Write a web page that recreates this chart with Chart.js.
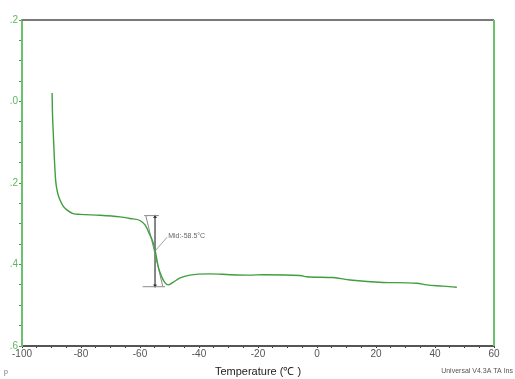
<!DOCTYPE html>
<html>
<head>
<meta charset="utf-8">
<script src="https://cdn.jsdelivr.net/npm/chart.js@4/dist/chart.umd.min.js"></script>
<style>
  html, body { margin: 0; padding: 0; background: #fff; }
  #wrap { width: 515px; height: 379px; position: relative; }
</style>
</head>
<body>
<div id="wrap"><canvas id="dscChart"></canvas></div>
<script>
// Данные кривой ДСК (температура, сигнал)
const temps = [-89.8, -89.7, -89.4, -89.0, -88.6, -88.0, -87.1, -86.1, -84.8, -82.7, -80.3, -73.6, -66.8, -63.4,
  -60.0, -58.3, -56.6, -55.5, -54.9, -53.8, -52.6, -51.5, -50.4, -48.7, -46.4, -43.1, -36.3, -29.5,
  -22.7, -18.3, -5.8, -3.5, 5.4, 11.2, 22.4, 33.8, 37.2, 42.7, 47.4];
const signal = [0.021, -0.021, -0.077, -0.144, -0.193, -0.222, -0.242, -0.256, -0.266, -0.275, -0.277, -0.279, -0.283, -0.287,
  -0.292, -0.303, -0.328, -0.347, -0.364, -0.406, -0.431, -0.445, -0.450, -0.443, -0.433, -0.426, -0.423, -0.425,
  -0.426, -0.425, -0.427, -0.430, -0.432, -0.438, -0.444, -0.446, -0.450, -0.453, -0.456];

// Разметка стеклования (касательные и середина)
const onsetLineX = [-58.6, -53.6];
const onsetLineY = [-0.280, -0.280];
const endLineX = [-59.1, -51.5];
const endLineY = [-0.4545, -0.4545];
const slopeLineX = [-58.0, -52.3];
const slopeLineY = [-0.281, -0.453];
const arrowX = [-54.9, -54.9];
const arrowY = [-0.283, -0.452];
const leaderX = [-54.9, -50.8];
const leaderY = [-0.367, -0.333];
const midLabel = 'Mid:-58.5°C';

const xTickLabels = { '-100': '-100', '-80': '-80', '-60': '-60', '-40': '-40', '-20': '-20', '0': '0', '20': '20', '40': '40', '60': '60' };
const yTickLabels = { '20': '.2', '0': '.0', '-20': '.2', '-40': '.4', '-60': '.6' };

const pts = (xs, ys) => xs.map((x, i) => ({ x: x, y: ys[i] }));
const grey = '#8a8a8a';

const frame = {
  id: 'frame',
  afterDraw(chart) {
    const { ctx, chartArea: a } = chart;
    ctx.save();
    ctx.lineWidth = 2;
    ctx.strokeStyle = '#7a7a7a';
    ctx.beginPath(); ctx.moveTo(a.left, a.top); ctx.lineTo(a.right, a.top); ctx.stroke();
    ctx.strokeStyle = '#6cc16c';
    ctx.beginPath(); ctx.moveTo(a.right, a.top); ctx.lineTo(a.right, a.bottom); ctx.stroke();
    // подпись середины перехода
    const xs = chart.scales.x, ys = chart.scales.y;
    ctx.font = '7px "Liberation Sans", Arial, sans-serif';
    ctx.fillStyle = '#666';
    ctx.textBaseline = 'middle';
    ctx.fillText(midLabel, xs.getPixelForValue(leaderX[1]) + 1, ys.getPixelForValue(leaderY[1]) - 1);
    // нижние надписи
    ctx.fillStyle = '#6b6b8a';
    ctx.fillText('p', 4, 372);
    ctx.fillStyle = '#555';
    ctx.textAlign = 'right';
    ctx.fillText('Universal V4.3A TA Ins', 513, 371);
    ctx.restore();
  }
};

new Chart(document.getElementById('dscChart'), {
  type: 'scatter',
  data: {
    datasets: [
      { data: pts(temps, signal), showLine: true, borderColor: '#3f9f3f', borderWidth: 1.4, pointRadius: 0, cubicInterpolationMode: 'monotone' },
      { data: pts(onsetLineX, onsetLineY), showLine: true, borderColor: grey, borderWidth: 1, pointRadius: 0 },
      { data: pts(endLineX, endLineY), showLine: true, borderColor: grey, borderWidth: 1, pointRadius: 0 },
      { data: pts(slopeLineX, slopeLineY), showLine: true, borderColor: grey, borderWidth: 1, pointRadius: 0 },
      { data: pts(leaderX, leaderY), showLine: true, borderColor: grey, borderWidth: 0.8, pointRadius: 0 },
      {
        data: pts(arrowX, arrowY), showLine: true, borderColor: '#777', borderWidth: 1,
        pointStyle: 'triangle', pointRadius: 2.2, pointRotation: [0, 180],
        pointBackgroundColor: '#333', pointBorderColor: '#333', pointBorderWidth: 0
      }
    ]
  },
  options: {
    responsive: true,
    maintainAspectRatio: false,
    animation: false,
    layout: { padding: { top: 20, right: 21, left: 0, bottom: 0 } },
    plugins: { legend: { display: false }, tooltip: { enabled: false } },
    scales: {
      x: {
        type: 'linear',
        min: -100, max: 60,
        afterFit: s => { s.height = 33; },
        border: { color: '#555', width: 2 },
        grid: { drawOnChartArea: false, drawTicks: true, tickLength: 2, color: '#333' },
        ticks: {
          stepSize: 5, autoSkip: false, maxRotation: 0, padding: 0,
          color: '#555', font: { family: '"Liberation Sans", Arial, sans-serif', size: 10 },
          callback: v => xTickLabels[String(Math.round(v))] || ''
        },
        title: {
          display: true, text: 'Temperature (℃ )', color: '#222', padding: { top: 8, bottom: 0 },
          font: { family: '"Liberation Sans", Arial, sans-serif', size: 11 }
        }
      },
      y: {
        min: -0.6, max: 0.2,
        afterFit: s => { s.width = 22; },
        border: { color: '#6cc16c', width: 2 },
        grid: { drawOnChartArea: false, drawTicks: true, tickLength: 3, color: '#3f9f3f' },
        ticks: {
          stepSize: 0.05, autoSkip: false, padding: 1,
          color: '#5cb85c', font: { family: '"Liberation Sans", Arial, sans-serif', size: 10 },
          callback: v => yTickLabels[String(Math.round(v * 100))] || ''
        }
      }
    }
  },
  plugins: [frame]
});
</script>
</body>
</html>
